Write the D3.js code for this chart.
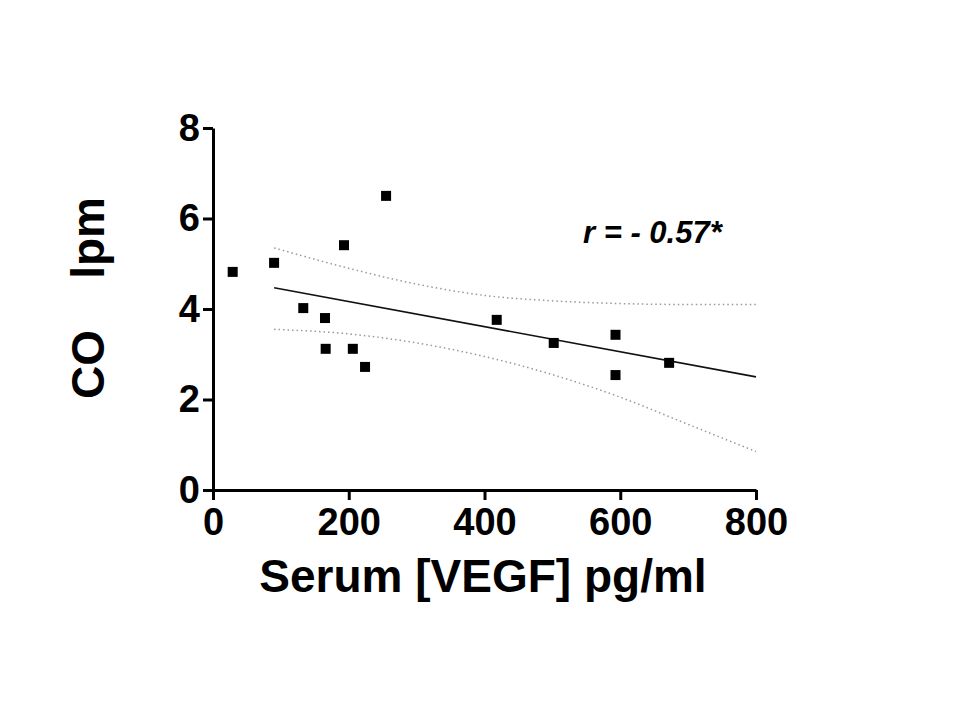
<!DOCTYPE html>
<html>
<head>
<meta charset="utf-8">
<script src="https://cdn.jsdelivr.net/npm/d3@7"></script>
<style>
  body { margin: 0; background: #fff; }
  text { font-family: "Liberation Sans", Arial, sans-serif; }
</style>
</head>
<body>
<div id="chart-area"></div>
<script>
// data
var vegf = [29, 90, 133, 165, 166, 193, 206, 224, 255, 418, 502, 593, 593, 672];
var co   = [4.82, 5.02, 4.02, 3.80, 3.12, 5.41, 3.12, 2.72, 6.50, 3.76, 3.25, 3.43, 2.54, 2.81];

var fitX = [90, 800];
var fitY = [4.47, 2.50];

var bandX     = [90, 200, 300, 400, 500, 600, 700, 800];
var bandUpper = [5.35, 4.90, 4.55, 4.30, 4.18, 4.12, 4.10, 4.10];
var bandLower = [3.55, 3.45, 3.25, 2.95, 2.55, 2.05, 1.45, 0.85];

var xTicks = [0, 200, 400, 600, 800];
var yTicks = [0, 2, 4, 6, 8];

var width = 960, height = 720;
var svg = d3.select("#chart-area").append("svg")
    .attr("width", width).attr("height", height);

var x = d3.scaleLinear().domain([0, 800]).range([213, 756]);
var y = d3.scaleLinear().domain([0, 8]).range([490, 128]);

// axes
var xAxis = svg.append("g")
    .attr("transform", "translate(0,490)")
    .call(d3.axisBottom(x).tickValues(xTicks).tickSize(10).tickSizeOuter(0));
var yAxis = svg.append("g")
    .attr("transform", "translate(213,0)")
    .call(d3.axisLeft(y).tickValues(yTicks).tickSize(10).tickSizeOuter(0));

[xAxis, yAxis].forEach(function(a) {
    a.select(".domain").attr("stroke", "#000").attr("stroke-width", 3);
    a.selectAll(".tick line").attr("stroke", "#000").attr("stroke-width", 3);
    a.selectAll(".tick text")
        .attr("font-size", 38).attr("font-weight", "bold").attr("fill", "#000")
        .style("font-family", "'Liberation Sans', Arial, sans-serif");
});
xAxis.selectAll(".tick text").attr("dy", "0.85em");
yAxis.selectAll(".tick text").attr("dx", "0");

// confidence band (dotted)
var line = d3.line().x(d => x(d[0])).y(d => y(d[1])).curve(d3.curveMonotoneX);
svg.append("path")
    .attr("d", line(d3.zip(bandX, bandUpper)))
    .attr("fill", "none").attr("stroke", "#999").attr("stroke-width", 1.5)
    .attr("stroke-dasharray", "1.5,3");
svg.append("path")
    .attr("d", line(d3.zip(bandX, bandLower)))
    .attr("fill", "none").attr("stroke", "#999").attr("stroke-width", 1.5)
    .attr("stroke-dasharray", "1.5,3");

// regression line
svg.append("path")
    .attr("d", d3.line().x(d => x(d[0])).y(d => y(d[1]))(d3.zip(fitX, fitY)))
    .attr("fill", "none").attr("stroke", "#111").attr("stroke-width", 1.6);

// points
svg.selectAll("rect.pt")
    .data(d3.zip(vegf, co))
    .join("rect")
    .attr("class", "pt")
    .attr("x", d => x(d[0]) - 5).attr("y", d => y(d[1]) - 5)
    .attr("width", 10).attr("height", 10)
    .attr("fill", "#000");

// labels
svg.append("text")
    .attr("x", 483).attr("y", 592)
    .attr("text-anchor", "middle")
    .attr("font-size", 46).attr("font-weight", "bold")
    .text("Serum [VEGF] pg/ml");

svg.append("text")
    .attr("transform", "translate(104,298) rotate(-90)")
    .attr("text-anchor", "middle")
    .attr("font-size", 46).attr("font-weight", "bold")
    .attr("xml:space", "preserve")
    .text("CO    lpm");

svg.append("text")
    .attr("x", 583).attr("y", 243)
    .attr("font-size", 31).attr("font-weight", "bold").attr("font-style", "italic")
    .text("r = - 0.57*");
</script>
</body>
</html>
